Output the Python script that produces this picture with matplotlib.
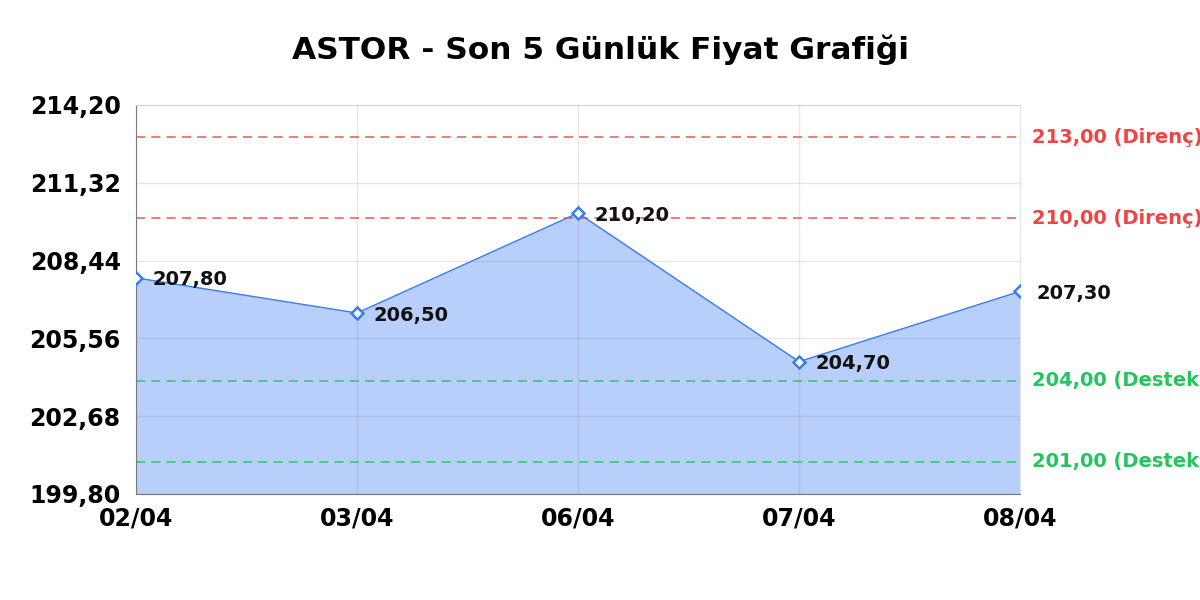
import matplotlib.pyplot as plt

# chart data
dates = ['02/04', '03/04', '06/04', '07/04', '08/04']
prices = [207.80, 206.50, 210.20, 204.70, 207.30]
resistance = [213.00, 210.00]
support = [204.00, 201.00]
y_ticks = [199.80, 202.68, 205.56, 208.44, 211.32, 214.20]


def tr(v):
    # Turkish decimal comma
    return f"{v:.2f}".replace('.', ',')


plt.rcParams['font.family'] = ['DejaVu Sans']
fig = plt.figure(figsize=(12, 6), dpi=100)
ax = fig.add_axes([0.1133, 0.1767, 0.7367, 0.6483])

x = list(range(len(dates)))
ax.fill_between(x, prices, y_ticks[0], color='#b7cffa', zorder=1)
ax.plot(x, prices, color='#3b7ded', linewidth=1.0, zorder=3,
        marker='D', markersize=6.5, markerfacecolor='white',
        markeredgecolor='#3b7ded', markeredgewidth=1.8)

for xi, p in zip(x, prices):
    ax.annotate(tr(p), (xi, p), xytext=(12, -1.5), textcoords='offset points',
                fontsize=14, fontweight='bold', color='#111111',
                va='center', ha='left', zorder=5, annotation_clip=False)

for lvl in resistance:
    ax.axhline(lvl, color='#ef4444', linestyle=(0, (6, 4)), linewidth=1.1, alpha=0.9, zorder=2)
    ax.text(1.014, lvl, f"{tr(lvl)} (Direnç)", transform=ax.get_yaxis_transform(),
            color='#ef4444', fontsize=14, fontweight='bold', va='center', ha='left')
for lvl in support:
    ax.axhline(lvl, color='#22c55e', linestyle=(0, (6, 4)), linewidth=1.1, alpha=0.9, zorder=2)
    ax.text(1.014, lvl, f"{tr(lvl)} (Destek)", transform=ax.get_yaxis_transform(),
            color='#22c55e', fontsize=14, fontweight='bold', va='center', ha='left')

ax.set_xlim(0, len(dates) - 1)
ax.set_ylim(y_ticks[0], y_ticks[-1])
ax.set_xticks(x)
ax.set_xticklabels(dates, fontsize=17, fontweight='bold')
ax.set_yticks(y_ticks)
ax.set_yticklabels([tr(v) for v in y_ticks], fontsize=17, fontweight='bold')
ax.tick_params(axis='y', length=0, pad=11)
ax.tick_params(axis='x', length=0, pad=9)
ax.grid(True, color='#888888', alpha=0.2, linewidth=1, zorder=1.5)
ax.set_axisbelow(False)

for s in ['top', 'right']:
    ax.spines[s].set_color('#e6e6e6')
for s in ['left', 'bottom']:
    ax.spines[s].set_color('#777777')

fig.suptitle('ASTOR - Son 5 Günlük Fiyat Grafiği', fontsize=22.5, fontweight='bold', y=0.943)

fig.savefig('out.png', dpi=100)
